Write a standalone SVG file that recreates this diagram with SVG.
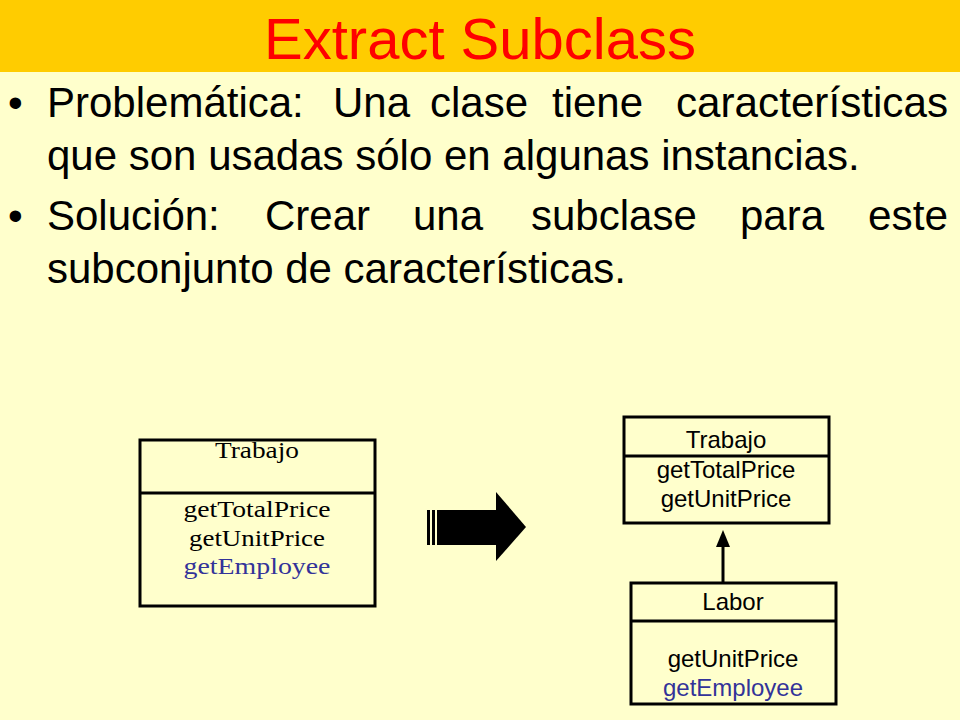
<svg xmlns="http://www.w3.org/2000/svg" width="960" height="720" viewBox="0 0 960 720">
<style>
.b{font-family:"Liberation Sans",Arial,sans-serif;font-size:42px;fill:#000}
.box{fill:none;stroke:#000;stroke-width:3}
.s{font-family:"Liberation Serif","DejaVu Serif",serif;font-size:23px;text-anchor:middle;fill:#000}
.a{font-family:"Liberation Sans",Arial,sans-serif;font-size:24px;text-anchor:middle;fill:#000}
.blue{fill:#333399}
</style>
<rect width="960" height="720" fill="#FFFFCC"/>
<rect width="960" height="72" fill="#FFCC00"/>
<text x="480" y="59" text-anchor="middle" font-family="Liberation Sans,Arial,sans-serif" font-size="58" fill="#FF0000">Extract Subclass</text>
<text class="b" x="8" y="117">•</text>
<text class="b" y="117"><tspan x="47">Problemática:</tspan><tspan x="333">Una</tspan><tspan x="430">clase</tspan><tspan x="552">tiene</tspan><tspan x="676" textLength="272" lengthAdjust="spacingAndGlyphs">características</tspan></text>
<text class="b" x="47" y="170">que son usadas sólo en algunas instancias.</text>
<text class="b" x="8" y="230">•</text>
<text class="b" y="230"><tspan x="47">Solución:</tspan><tspan x="265">Crear</tspan><tspan x="413">una</tspan><tspan x="531">subclase</tspan><tspan x="740">para</tspan><tspan x="868" textLength="80" lengthAdjust="spacingAndGlyphs">este</tspan></text>
<text class="b" x="47" y="283">subconjunto de características.</text>
<g id="left">
<rect class="box" x="140" y="440" width="235" height="166"/>
<line x1="140" y1="493" x2="375" y2="493" stroke="#000" stroke-width="3"/>
<text class="s" x="257" y="458" textLength="84" lengthAdjust="spacingAndGlyphs">Trabajo</text>
<text class="s" x="257" y="517" textLength="147" lengthAdjust="spacingAndGlyphs">getTotalPrice</text>
<text class="s" x="257" y="546" textLength="136" lengthAdjust="spacingAndGlyphs">getUnitPrice</text>
<text class="s blue" x="257" y="574" textLength="147" lengthAdjust="spacingAndGlyphs">getEmployee</text>
</g>
<g id="bigarrow" fill="#000">
<rect x="427" y="510" width="3" height="35"/>
<rect x="432" y="510" width="3" height="35"/>
<rect x="437" y="510" width="60" height="35"/>
<path d="M496,492 L526,527 L496,561Z"/>
</g>
<g id="trabajo">
<rect class="box" x="624" y="417" width="205" height="106"/>
<line x1="624" y1="456" x2="829" y2="456" stroke="#000" stroke-width="3"/>
<text class="a" x="726" y="448">Trabajo</text>
<text class="a" x="726" y="478">getTotalPrice</text>
<text class="a" x="726" y="507">getUnitPrice</text>
</g>
<g id="labor">
<rect class="box" x="631" y="583" width="205" height="121"/>
<line x1="631" y1="621" x2="836" y2="621" stroke="#000" stroke-width="3"/>
<text class="a" x="733" y="610">Labor</text>
<text class="a" x="733" y="667">getUnitPrice</text>
<text class="a blue" x="733" y="696">getEmployee</text>
</g>
<g id="connectors">
<line x1="723" y1="583" x2="723" y2="545" stroke="#000" stroke-width="3"/>
<path d="M716,547 L723,530 L730,547Z" fill="#000"/>
</g>
</svg>
